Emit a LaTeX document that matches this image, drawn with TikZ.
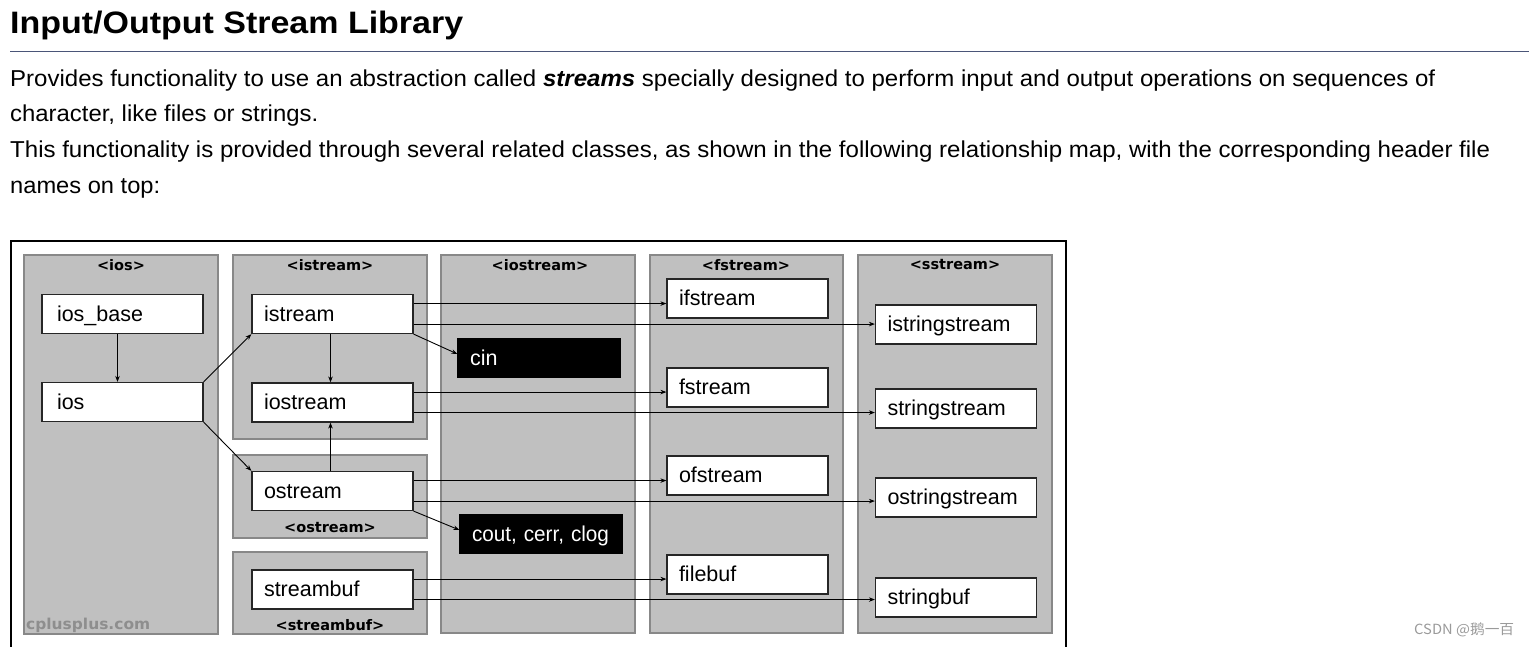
\documentclass[tikz,border=0pt]{standalone}
\usepackage{fontspec}
\usepackage{graphicx}
\setmainfont{Liberation Sans}
\newfontfamily\dejabold{DejaVu Sans}
\newfontfamily\cjkfont{Noto Sans CJK SC}
\usetikzlibrary{arrows.meta,calc}
\definecolor{panelfill}{HTML}{C0C0C0}
\definecolor{paneledge}{HTML}{888888}
\definecolor{rulecol}{HTML}{4A5578}
\definecolor{wmark}{HTML}{8E8E8E}
\definecolor{csdn}{HTML}{9A9A9A}
\tikzset{
  panel/.style={draw=paneledge, fill=panelfill, line width=2.5pt},
  cls/.style={draw=black!85, fill=white, line width=1.2pt, text width=137pt, inner xsep=12pt, inner ysep=0pt,
    minimum height=39pt, text height=19pt, text depth=4.5pt, align=left, font=\fontsize{21.5}{25}\selectfont},
  clswide/.style={cls, text width=131pt, inner xsep=15pt},
  obj/.style={draw=black, fill=black, text=white, line width=1.2pt, text width=138pt, inner xsep=12pt, inner ysep=0pt,
    minimum height=39pt, text height=19pt, text depth=4.5pt, align=left, font=\fontsize{21.5}{25}\selectfont},
  hdr/.style={inner sep=0pt, font=\dejabold\bfseries\fontsize{14.5}{16}\selectfont},
  arr/.style={-{Stealth[length=6pt,width=4.5pt]}, line width=0.9pt, black},
  para/.style={anchor=base west, inner sep=0pt, font=\fontsize{23}{27}\selectfont},
}
\newcommand\fitw[2]{\resizebox{#1}{\height}{#2}}
\begin{document}
\begin{tikzpicture}[x=1pt,y=-1pt]
\useasboundingbox (0,0) rectangle (1529,646);
% heading and text
\node[anchor=base west, inner sep=0pt] (title) at (10,33)
  {\fitw{453pt}{\fontsize{31}{37}\selectfont\bfseries Input/Output Stream Library}};
\draw[rulecol, line width=0.9pt] (10,51) -- (1529,51);
\node[para] (l1) at (10,86) {\fitw{1425pt}{Provides functionality to use an abstraction called \textbf{\textit{streams}} specially designed to perform input and output operations on sequences of}};
\node[para] (l2) at (10,121) {\fitw{308pt}{character, like files or strings.}};
\node[para] (l3) at (10,157) {\fitw{1480pt}{This functionality is provided through several related classes, as shown in the following relationship map, with the corresponding header file}};
\node[para] (l4) at (10,193) {\fitw{150pt}{names on top:}};
% frame
\draw[line width=1.2pt] (11,648) -- (11,241) -- (1066,241) -- (1066,648);
% panels
\draw[panel] (24,255) rectangle (218,634);
\draw[panel] (233,255) rectangle (427,439);
\draw[panel] (233,455) rectangle (427,538);
\draw[panel] (233,552) rectangle (427,634);
\draw[panel] (441,255) rectangle (635,633);
\draw[panel] (650,255) rectangle (843,633);
\draw[panel] (858,255) rectangle (1052,633);
% headers
\node[hdr] (hios) at (121,265) {<ios>};
\node[hdr] (histream) at (330,265) {<istream>};
\node[hdr] (hiostream) at (540,265) {<iostream>};
\node[hdr] (hfstream) at (746,265) {<fstream>};
\node[hdr] (hsstream) at (955,265) {<sstream>};
\node[hdr] (hostream) at (330,528) {<ostream>};
\node[hdr] (hstreambuf) at (330,625) {<streambuf>};
\node[anchor=base west, inner sep=0pt, text=wmark] (cpp) at (26,629)
  {\fitw{124pt}{\dejabold\bfseries\fontsize{15}{17}\selectfont cplusplus.com}};
% classes
\node[clswide] (iosbase) at (122.5,314) {ios\_base};
\node[clswide] (ios) at (122.5,402) {ios};
\node[cls] (istream) at (332.5,314) {istream};
\node[cls] (iostream) at (332.5,402.5) {iostream};
\node[cls] (ostream) at (332.5,491) {ostream};
\node[cls] (streambuf) at (332.5,589.5) {streambuf};
\node[obj] (cin) at (539,358) {cin};
\node[obj] (cout) at (541,534) {\fitw{137pt}{cout, cerr, clog}};
\node[cls] (ifstream) at (747.5,298.5) {ifstream};
\node[cls] (fstream) at (747.5,387.5) {fstream};
\node[cls] (ofstream) at (747.5,475.5) {ofstream};
\node[cls] (filebuf) at (747.5,574.5) {filebuf};
\node[cls] (istringstream) at (956,324.5) {istringstream};
\node[cls] (stringstream) at (956,408.5) {stringstream};
\node[cls] (ostringstream) at (956,497.5) {ostringstream};
\node[cls] (stringbuf) at (956,597.5) {stringbuf};
% vertical / diagonal arrows
\draw[arr] ($(iosbase.south)+(-5,0)$) -- ($(ios.north)+(-5,0)$);
\draw[arr] ($(istream.south)+(-2,0)$) -- ($(iostream.north)+(-2,0)$);
\draw[arr] ($(ostream.north)+(-2,0)$) -- ($(iostream.south)+(-2,0)$);
\draw[arr] (ios.north east) -- (istream.south west);
\draw[arr] (ios.south east) -- (ostream.north west);
\draw[arr] (istream.south east) -- ($(cin.north west)!0.4!(cin.south west)$);
\draw[arr] (ostream.south east) -- ($(cout.north west)!0.4!(cout.south west)$);
% horizontal arrows
\foreach \src/\a/\b in {istream/ifstream/istringstream, iostream/fstream/stringstream,
  ostream/ofstream/ostringstream, streambuf/filebuf/stringbuf}{
  \coordinate (\src-a) at ($(\src.north east)!0.24!(\src.south east)$);
  \coordinate (\src-b) at ($(\src.north east)!0.75!(\src.south east)$);
  \draw[arr] (\src-a) -- (\src-a -| \a.west);
  \draw[arr] (\src-b) -- (\src-b -| \b.west);
}
% CSDN watermark
\node[anchor=base west, inner sep=0pt, text=csdn] (csdn) at (1414,634)
  {\fitw{100pt}{\cjkfont\fontsize{14}{16}\selectfont CSDN @鹅一百}};
\end{tikzpicture}
\end{document}
